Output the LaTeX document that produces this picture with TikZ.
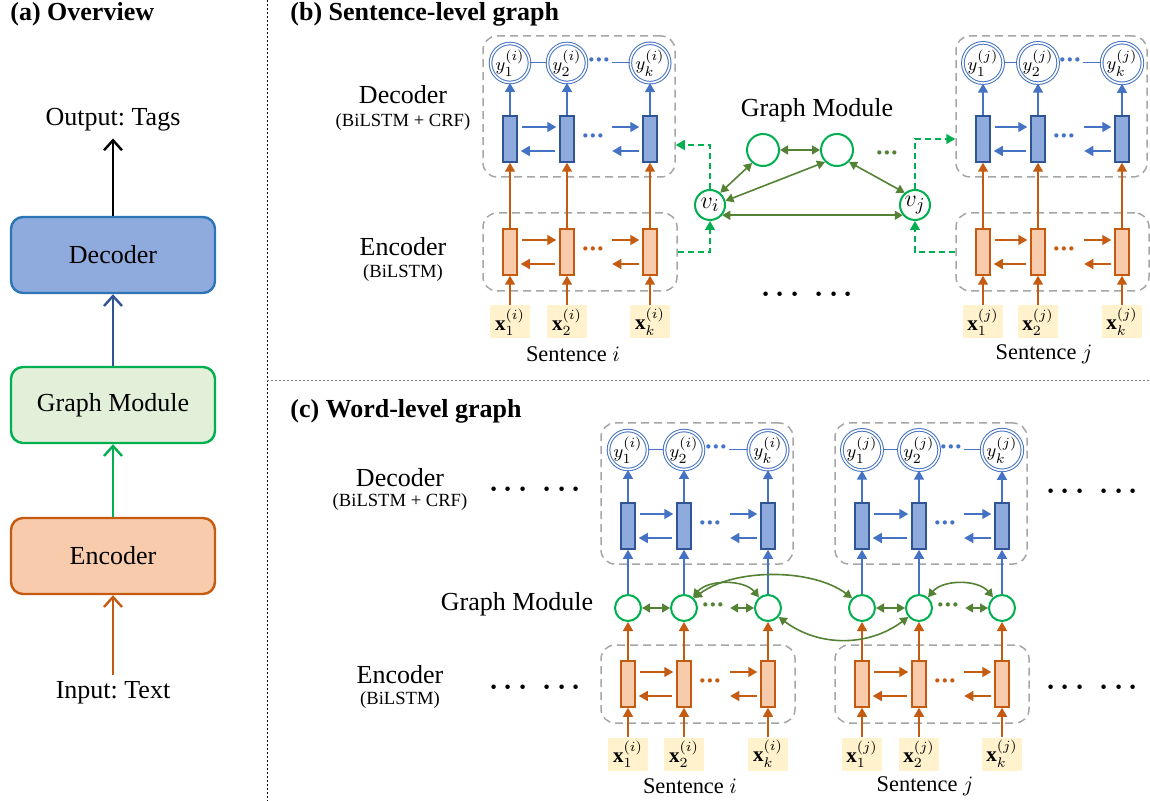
\documentclass[tikz,border=0pt]{standalone}
\usepackage{fontspec}
\setmainfont{Liberation Serif}
\usepackage{amsmath}
\usepackage{bm}
\usetikzlibrary{arrows.meta}
\usetikzlibrary{fit}
\usetikzlibrary{calc}

\definecolor{encfill}{HTML}{F8CBAD}
\definecolor{encline}{HTML}{C55A11}
\definecolor{decfill}{HTML}{8FAADC}
\definecolor{decline}{HTML}{2F5597}
\definecolor{decarr}{HTML}{4472C4}
\definecolor{ovblue}{HTML}{2E75B6}
\definecolor{grfill}{HTML}{E2F0D9}
\definecolor{grline}{HTML}{00B050}
\definecolor{grarr}{HTML}{548235}
\definecolor{infill}{HTML}{FFF2CC}
\definecolor{boxgray}{HTML}{A6A6A6}

\tikzset{
	lab/.style={font=\fontsize{13}{15}\selectfont},
	sublab/.style={font=\fontsize{9.3}{11}\selectfont},
	sentlab/.style={font=\fontsize{11.2}{13}\selectfont},
	paneltitle/.style={font=\fontsize{13}{15}\selectfont\bfseries, anchor=west, inner sep=0pt},
	ovbox/.style={rounded corners=6pt, line width=1.2pt, minimum width=102pt, minimum height=38pt, font=\fontsize{13}{15}\selectfont},
	ovarrow/.style={line width=1.2pt, -{Straight Barb[length=5pt,width=9pt]}},
	deccell/.style={draw=decline, fill=decfill, line width=0.75pt, minimum width=7pt, minimum height=23pt, inner sep=0pt},
	enccell/.style={draw=encline, fill=encfill, line width=0.75pt, minimum width=7pt, minimum height=23pt, inner sep=0pt},
	ycirc/.style={circle, draw=decarr, double=white, double distance=0.8pt, line width=0.5pt, minimum size=19pt, inner sep=0pt, font=\fontsize{9.5}{11}\selectfont},
	inbox/.style={fill=infill, minimum width=20pt, minimum height=16.5pt, inner sep=0pt, font=\fontsize{10.5}{12}\selectfont},
	gnode/.style={circle, draw=grline, fill=white, line width=1pt, minimum size=16pt, inner sep=0pt, font=\fontsize{13}{15}\selectfont},
	dbox/.style={draw=boxgray, line width=0.75pt, dash pattern=on 4pt off 2.5pt, rounded corners=7pt, inner sep=0pt},
	decarrow/.style={draw=decarr, line width=0.75pt, -{Triangle[length=4.5pt,width=5pt]}},
	encarrow/.style={draw=encline, line width=0.75pt, -{Triangle[length=4.5pt,width=5pt]}},
	gedge/.style={draw=grarr, line width=0.8pt, {Triangle[length=4pt,width=4.5pt]}-{Triangle[length=4pt,width=4.5pt]}},
	gdash/.style={draw=grline, line width=0.75pt, dash pattern=on 3pt off 2pt, -{Triangle[length=4.5pt,width=5pt]}},
	celldots/.style={inner sep=0.5pt, font=\fontsize{13}{14}\selectfont\bfseries},
	bigdots/.style={font=\fontsize{14}{16}\selectfont\boldmath},
	sepline/.style={line width=0.5pt, dash pattern=on 1pt off 1pt},
}

\newcommand{\tridots}{\textperiodcentered\kern-0.6pt\textperiodcentered\kern-0.6pt\textperiodcentered}

\begin{document}
\frenchspacing
\begin{tikzpicture}[x=0.5pt, y=-0.5pt]
	\useasboundingbox (0,0) rectangle (1150,801);

	\draw[sepline] (267,0) -- (267,801);
	\draw[sepline, gray] (267,381) -- (1150,381);

	\node[paneltitle](ta) at (10,14) {(a) Overview};
	\node[lab](ovout) at (113,120) {Output: Tags};
	\node[ovbox, draw=ovblue, fill=decfill](ovdec) at (113,255) {Decoder};
	\node[ovbox, draw=grline, fill=grfill](ovgm) at (113,405) {Graph Module};
	\node[ovbox, draw=encline, fill=encfill](ovenc) at (113,556) {Encoder};
	\node[lab](ovin) at (113,693) {Input: Text};

	\draw[ovarrow] (ovdec) -- (ovout);
	\draw[ovarrow, decline] (ovgm) -- (ovdec);
	\draw[ovarrow, grline] (ovenc) -- (ovgm);
	\draw[ovarrow, encline] (ovin) -- (ovenc);

	\node[paneltitle](tb) at (290,14) {(b) Sentence-level graph};
	\node[lab](bdec) at (403,95) {Decoder};
	\node[sublab](bdecs) at (403,122) {(BiLSTM + CRF)};
	\node[lab](benc) at (403,247) {Encoder};
	\node[sublab](bencs) at (403,273) {(BiLSTM)};
	\node[bigdots](bmore) at (810,295) {$\cdots\;\cdots$};

	\node[paneltitle](tc) at (290,411) {(c) Word-level graph};
	\node[lab](cdec) at (400,478) {Decoder};
	\node[sublab](cdecs) at (400,502) {(BiLSTM + CRF)};
	\node[lab](cgm) at (517,604) {Graph Module};
	\node[lab](cenc) at (400,675) {Encoder};
	\node[sublab](cencs) at (400,700) {(BiLSTM)};
	\node[bigdots](cmore1) at (538,490) {$\cdots\;\cdots$};
	\node[bigdots](cmore2) at (538,688) {$\cdots\;\cdots$};
	\node[bigdots](cmore3) at (1095,492) {$\cdots\;\cdots$};
	\node[bigdots](cmore4) at (1095,688) {$\cdots\;\cdots$};

	\foreach \blk/\xa/\xb/\xk/\yy/\sn in {bi/510/567/650/63/i, bj/983/1038/1122/63/j, ci/628/684/768/450/i, cj/862/919/1002/450/j}{
		\node[ycirc](\blk-y1) at (\xa,\yy) {$y_1^{(\sn)}$};
		\node[ycirc](\blk-y2) at (\xb,\yy) {$y_2^{(\sn)}$};
		\node[ycirc](\blk-yk) at (\xk,\yy) {$y_k^{(\sn)}$};
		\node[celldots, text=decarr](\blk-yd) at (\xb+32,\yy) {\tridots};
		\node[deccell](\blk-d1) at (\xa,\yy+76) {};
		\node[deccell](\blk-d2) at (\xb,\yy+76) {};
		\node[deccell](\blk-dk) at (\xk,\yy+76) {};
		\node[celldots, text=decarr](\blk-dd) at (\xb+26,\yy+76) {\tridots};
		\node[dbox, fit={(\xa-27,\yy-27) (\xk+25,\yy+114)}](\blk-dec) {};

		\draw[decarr, line width=0.5pt] (\blk-y1) -- (\blk-y2);
		\draw[decarr, line width=0.5pt] (\blk-yd) -- (\blk-yk);
		\draw[decarrow] (\blk-d1) -- (\blk-y1);
		\draw[decarrow] (\blk-d2) -- (\blk-y2);
		\draw[decarrow] (\blk-dk) -- (\blk-yk);
		\draw[decarrow, shorten <=2pt, shorten >=1.5pt] ([yshift=6pt]\blk-d1.east) -- ([yshift=6pt]\blk-d2.west);
		\draw[decarrow, shorten <=2pt, shorten >=1.5pt] ([yshift=-6pt]\blk-d2.west) -- ([yshift=-6pt]\blk-d1.east);
		\draw[decarrow, shorten >=1.5pt] ([xshift=-15pt,yshift=6pt]\blk-dk.west) -- ([yshift=6pt]\blk-dk.west);
		\draw[decarrow, shorten <=1.5pt] ([yshift=-6pt]\blk-dk.west) -- ([xshift=-15pt,yshift=-6pt]\blk-dk.west);
	}

	\foreach \blk/\xa/\xb/\xk/\yy/\sn in {bi/510/567/650/252/i, bj/983/1038/1122/252/j, ci/628/684/768/684/i, cj/862/919/1002/684/j}{
		\node[enccell](\blk-e1) at (\xa,\yy) {};
		\node[enccell](\blk-e2) at (\xb,\yy) {};
		\node[enccell](\blk-ek) at (\xk,\yy) {};
		\node[celldots, text=encline](\blk-ed) at (\xb+26,\yy) {\tridots};
		\node[inbox](\blk-x1) at (\xa,\yy+70) {$\mathbf{x}_1^{(\sn)}$};
		\node[inbox](\blk-x2) at (\xb,\yy+70) {$\mathbf{x}_2^{(\sn)}$};
		\node[inbox](\blk-xk) at (\xk,\yy+70) {$\mathbf{x}_k^{(\sn)}$};
		\node[sentlab](\blk-sent) at (\xb+6,\yy+102) {Sentence $\sn$};
		\node[dbox, fit={(\xa-27,\yy-39) (\xk+27,\yy+39)}](\blk-enc) {};

		\draw[encarrow] (\blk-x1) -- (\blk-e1);
		\draw[encarrow] (\blk-x2) -- (\blk-e2);
		\draw[encarrow] (\blk-xk) -- (\blk-ek);
		\draw[encarrow, shorten <=2pt, shorten >=1.5pt] ([yshift=6pt]\blk-e1.east) -- ([yshift=6pt]\blk-e2.west);
		\draw[encarrow, shorten <=2pt, shorten >=1.5pt] ([yshift=-6pt]\blk-e2.west) -- ([yshift=-6pt]\blk-e1.east);
		\draw[encarrow, shorten >=1.5pt] ([xshift=-15pt,yshift=6pt]\blk-ek.west) -- ([yshift=6pt]\blk-ek.west);
		\draw[encarrow, shorten <=1.5pt] ([yshift=-6pt]\blk-ek.west) -- ([xshift=-15pt,yshift=-6pt]\blk-ek.west);
	}

	\foreach \blk in {bi,bj}{
		\draw[encarrow] (\blk-e1) -- (\blk-d1);
		\draw[encarrow] (\blk-e2) -- (\blk-d2);
		\draw[encarrow] (\blk-ek) -- (\blk-dk);
	}

	\node[lab](bgm) at (817,110) {Graph Module};
	\node[gnode](gtl) at (763,150) {};
	\node[gnode](gtm) at (837,150) {};
	\node[gnode, minimum size=15pt](vi) at (710,205) {$v_i$};
	\node[gnode, minimum size=15pt](vj) at (915,205) {$v_j$};
	\node[celldots, text=grarr](gdots) at (887,156) {\tridots};

	\draw[gedge] (gtl) -- (gtm);
	\draw[gedge] (vi.50) -- (gtl.-130);
	\draw[gedge] (vi.15) -- (gtm.-135);
	\draw[gedge] (gtm.-45) -- (vj.130);
	\draw[gedge] (vi.-40) -- (vj.-140);

	\draw[gdash] (vi.north) |- ($(bi-dec.east |- bi-dk)+(0,6)$);
	\draw[gdash] (bi-enc.east) -| (vi.south);
	\draw[gdash] (vj.north) |- (bj-dec.west |- bj-d1);
	\draw[gdash] (bj-enc.west) -| (vj.south);

	\foreach \blk/\xa/\xb/\xk in {ci/628/684/768, cj/862/919/1002}{
		\node[gnode, minimum size=13pt](\blk-g1) at (\xa,608) {};
		\node[gnode, minimum size=13pt](\blk-g2) at (\xb,608) {};
		\node[gnode, minimum size=13pt](\blk-gk) at (\xk,608) {};
		\node[celldots, text=grarr](\blk-gd) at (\xb+29,608) {\tridots};

		\draw[encarrow] (\blk-e1) -- (\blk-g1);
		\draw[encarrow] (\blk-e2) -- (\blk-g2);
		\draw[encarrow] (\blk-ek) -- (\blk-gk);
		\draw[decarrow] (\blk-g1) -- (\blk-d1);
		\draw[decarrow] (\blk-g2) -- (\blk-d2);
		\draw[decarrow] (\blk-gk) -- (\blk-dk);
		\draw[gedge] (\blk-g1) -- (\blk-g2);
		\draw[gedge, shorten <=2pt] (\blk-gd) -- (\blk-gk);
		\draw[gedge] (\blk-g2.50) .. controls +(15,-18) and +(-15,-18) .. (\blk-gk.130);
	}

	\draw[gedge] (ci-g2.45) .. controls +(40,-30) and +(-40,-30) .. (cj-g1.135);
	\draw[gedge] (ci-gk.-40) .. controls +(40,30) and +(-40,30) .. (cj-g2.-140);
\end{tikzpicture}
\end{document}
